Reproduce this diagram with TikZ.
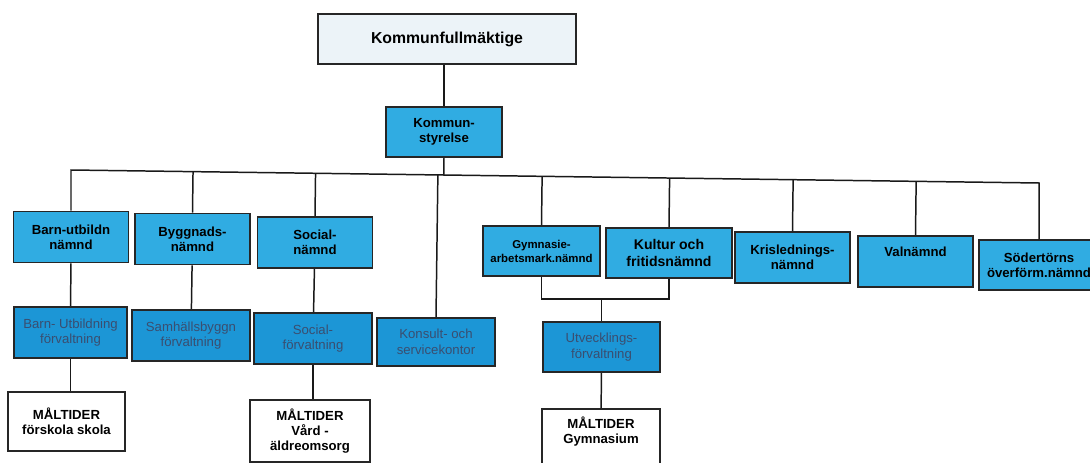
\documentclass[tikz,border=0pt]{standalone}
\usepackage{fontspec}
\setmainfont{Liberation Sans}
\usepackage{tikz}
\usetikzlibrary{calc}
\definecolor{nmdblue}{RGB}{48,172,226}
\definecolor{forvblue}{RGB}{28,150,214}
\definecolor{forvtext}{RGB}{58,78,112}
\definecolor{kfpale}{RGB}{236,243,248}
\tikzset{
nmd/.style = { rectangle, draw = black!85, fill = nmdblue, line width = 1pt, minimum width = 2.3cm, minimum height = 1.02cm, align = center, inner sep = 1pt, font = \bfseries\fontsize{7.5}{8.6}\selectfont },
forv/.style = { nmd, fill = forvblue, text = forvtext, font = \fontsize{7.5}{9}\selectfont },
maltid/.style = { nmd, fill = white, minimum height = 1.2cm, font = \bfseries\fontsize{7.5}{8.6}\selectfont },
link/.style = { draw = black!90, line width = 0.85pt },
}

\begin{document}
\begin{tikzpicture}[x=0.02cm, y=-0.02cm]
    \useasboundingbox (0,0) rectangle (1090,463);
    \clip (0,0) rectangle (1090,463);
    \fill[white] (0,0) rectangle (1090,463);
    % top
    \node[nmd, fill = kfpale, minimum width = 5.16cm, minimum height = 1cm, font = \bfseries\fontsize{9}{10}\selectfont] (kf) at (447,39) {Kommunfullmäktige};
    \node[nmd, minimum width = 2.32cm, minimum height = 1cm] (ks) at (444,132) {Kommun-\\styrelse};
    % nämnder
    \begin{scope}[every node/.style={nmd}]
      \node (barnn) at (71,237) {Barn-utbildn\\nämnd};
      \node (byggn) at (192.5,239) {Byggnads-\\nämnd};
      \node (socn) at (315,242.5) {Social-\\nämnd};
      \node[minimum width = 2.34cm, minimum height = 1cm, font = \bfseries\fontsize{6.5}{8}\selectfont] (gymn) at (541.5,251) {Gymnasie-\\arbetsmark.nämnd};
      \node[minimum width = 2.52cm, minimum height = 1cm, font = \bfseries\fontsize{8}{9.4}\selectfont] (kultn) at (669,253) {Kultur och\\fritidsnämnd};
      \node (krisn) at (792.5,257.5) {Krislednings-\\nämnd};
      \node (valn) at (915.5,261.5) {Valnämnd\\\strut};
      \node[minimum width = 2.4cm, minimum height = 1cm] (sodn) at (1039,265) {Södertörns\\överförm.nämnd};
    \end{scope}
    % förvaltningar
    \begin{scope}[every node/.style={forv}]
      \node[minimum width = 2.26cm] (barnf) at (70.5,332.5) {Barn- Utbildning\\förvaltning};
      \node[minimum width = 2.36cm] (samhf) at (191,335.5) {Samhällsbyggn\\förvaltning};
      \node[minimum width = 2.36cm] (socf) at (313,338.5) {Social-\\förvaltning};
      \node[minimum width = 2.36cm, minimum height = 0.96cm] (konsult) at (436,342) {Konsult- och\\servicekontor};
      \node[minimum width = 2.34cm, minimum height = 1cm] (utvf) at (601.5,347) {Utvecklings-\\förvaltning};
    \end{scope}
    % måltider
    \begin{scope}[every node/.style={maltid}]
      \node[minimum width = 2.34cm, minimum height = 1.18cm] (malskola) at (66.5,421.5) {MÅLTIDER\\förskola skola};
      \node[minimum width = 2.4cm, minimum height = 1.24cm] (malvard) at (310,431) {MÅLTIDER\\Vård -\\äldreomsorg};
      \node[minimum width = 2.36cm, minimum height = 1.24cm] (malgym) at (601,440) {MÅLTIDER\\Gymnasium\\\strut};
    \end{scope}
    % connectors
    \begin{scope}[every path/.style={link}]
      \coordinate (busL) at (73,170);
      \coordinate (busR) at (1040,183);
      \draw (kf.south -| ks.north) -- (ks.north);
      \draw (ks.south) -- ($(busL)!(ks.south)!(busR)$);
      \draw (barnn.north) -- (barnn.north |- busL) -- (busR -| sodn.north) -- (sodn.north);
      \foreach \n in {byggn, socn, konsult, gymn, kultn, krisn, valn}
        \draw (\n.north) -- ($(busL)!(\n.north)!(busR)$);
      \draw (barnn) -- (barnf);
      \draw (byggn) -- (samhf);
      \draw (socn) -- (socf);
      \draw (gymn.south) -- ++(0,22) -| (kultn.south);
      \coordinate (gk) at (601.5,298);
      \draw (gk) -- (utvf.north);
      \draw (barnf.south) -- (barnf.south |- malskola.north);
      \draw (socf.south) -- (socf.south |- malvard.north);
      \draw (utvf) -- (malgym);
    \end{scope}
  \end{tikzpicture}
\end{document}
